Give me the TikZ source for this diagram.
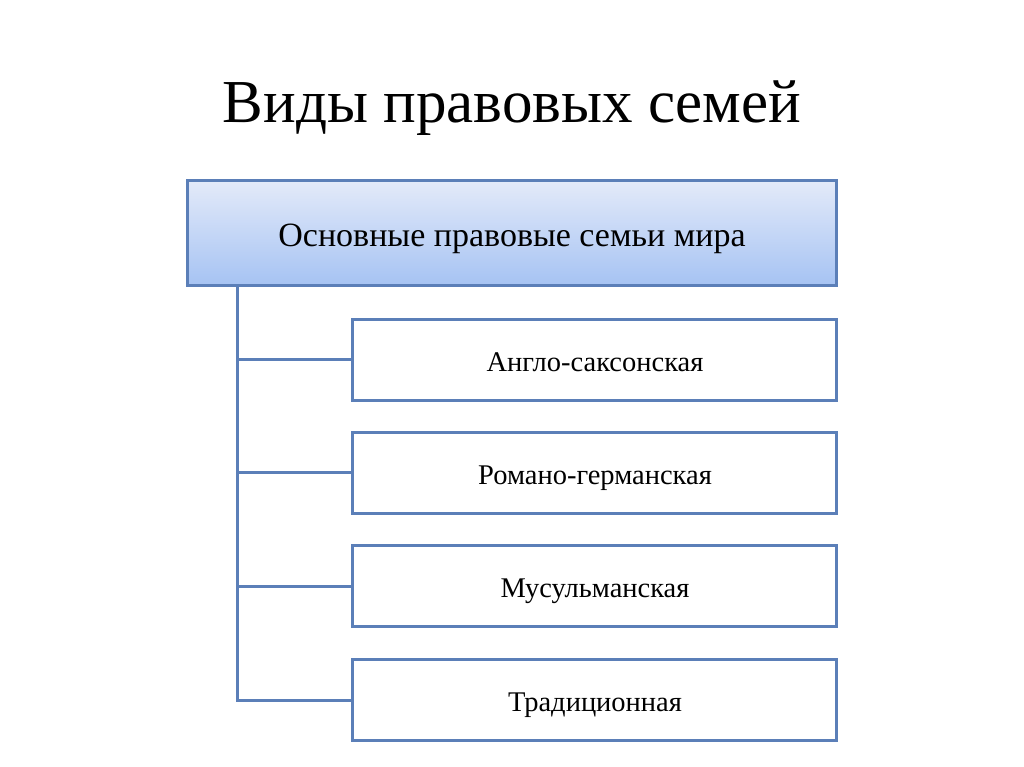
\documentclass[tikz,border=0pt]{standalone}
\usepackage{fontspec}
\setmainfont{Liberation Serif}
\usetikzlibrary{shadows}
\definecolor{edge}{HTML}{5B7FB8}
\definecolor{gtop}{HTML}{E3EAF9}
\definecolor{gbot}{HTML}{A6C3F3}
\tikzset{
  headbox/.style={draw=edge, line width=3pt, top color=gtop, bottom color=gbot,
    minimum width=649pt, minimum height=104pt, inner sep=0pt,
    drop shadow={shadow xshift=2pt, shadow yshift=-2pt, opacity=0.25}},
  itembox/.style={draw=edge, line width=3pt, fill=white,
    minimum width=484pt, minimum height=81pt, inner sep=0pt},
  headtext/.style={font=\fontsize{34}{38}\selectfont, anchor=base, text=black},
  itemtext/.style={font=\fontsize{28.5}{32}\selectfont, anchor=base, text=black},
  link/.style={draw=edge, line width=3pt}
}
\begin{document}
\begin{tikzpicture}[x=1pt,y=-1pt]
\useasboundingbox (0,0) rectangle (1024,767);
\fill[white] (0,0) rectangle (1024,767);
\node[font=\fontsize{61}{64}\selectfont, anchor=base] (title) at (512,123) {Виды правовых семей};
\node[headbox] (head) at (511.5,233) {};
\node[headtext] (headt) at (512,246) {Основные правовые семьи мира};
\node[itembox] (a) at (594,359.5) {};
\node[itembox] (b) at (594,472.5) {};
\node[itembox] (c) at (594,586) {};
\node[itembox] (d) at (594,700) {};
\node[itemtext] (at) at (595,371) {Англо-саксонская};
\node[itemtext] (bt) at (595,484) {Романо-германская};
\node[itemtext] (ct) at (595,597.5) {Мусульманская};
\node[itemtext] (dt) at (595,711.5) {Традиционная};
\coordinate (top) at (237,285);
\draw[link] (top) |- (d.west);
\draw[link] (top |- a.west) -- (a.west);
\draw[link] (top |- b.west) -- (b.west);
\draw[link] (top |- c.west) -- (c.west);
\end{tikzpicture}
\end{document}
